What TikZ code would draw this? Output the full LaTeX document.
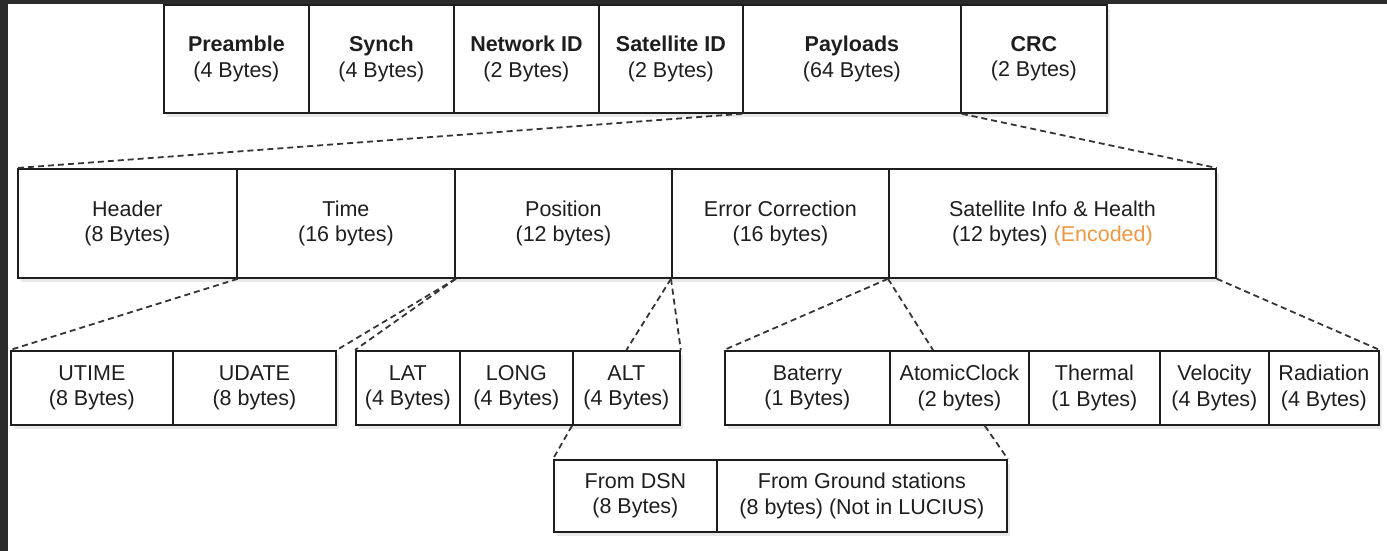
\documentclass[tikz,border=0pt]{standalone}
\usepackage{fontspec}
\setmainfont{Liberation Sans}
\usetikzlibrary{positioning,shadows,calc}
\definecolor{frame}{HTML}{2B2B2B}
\definecolor{ink}{HTML}{1E1E1E}
\definecolor{encoded}{RGB}{240,152,64}
\tikzset{
  field/.style={draw=ink, line width=1.8pt, fill=white, anchor=north west,
    inner sep=0pt, align=center, text=ink, font=\fontsize{21.5}{25.5}\selectfont,
    drop shadow={opacity=0.18, shadow xshift=3pt, shadow yshift=-4pt}},
  link/.style={draw=ink!90, line width=1.8pt, dash pattern=on 6pt off 4pt}
}

\begin{document}
\begin{tikzpicture}[x=1pt,y=-1pt]
        \useasboundingbox (0,0) rectangle (1387,551);
        \fill[frame] (0,0) rectangle (8,551);
        \fill[frame] (0,0) rectangle (1387,4);
        % frame
        \node[field, minimum width=145pt, minimum height=108pt] (preamble) at (163,4) {\textbf{Preamble}\\(4 Bytes)};
        \node[field, minimum width=145pt, minimum height=108pt] (synch) at (308,4) {\textbf{Synch}\\(4 Bytes)};
        \node[field, minimum width=145pt, minimum height=108pt] (netid) at (453,4) {\textbf{Network ID}\\(2 Bytes)};
        \node[field, minimum width=144pt, minimum height=108pt] (satid) at (598,4) {\textbf{Satellite ID}\\(2 Bytes)};
        \node[field, minimum width=218pt, minimum height=108pt] (payload) at (742,4) {\textbf{Payloads}\\(64 Bytes)};
        \node[field, minimum width=146pt, minimum height=108pt] (crc) at (960,4) {\textbf{CRC}\\(2 Bytes)};
        % payload
        \node[field, minimum width=219pt, minimum height=109pt] (header) at (17,168) {Header\\(8 Bytes)};
        \node[field, minimum width=218pt, minimum height=109pt] (time) at (236,168) {Time\\(16 bytes)};
        \node[field, minimum width=217pt, minimum height=109pt] (position) at (454,168) {Position\\(12 bytes)};
        \node[field, minimum width=217pt, minimum height=109pt] (errcorr) at (671,168) {Error Correction\\(16 bytes)};
        \node[field, minimum width=327pt, minimum height=109pt] (satinfo) at (888,168) {Satellite Info \& Health\\(12 bytes) {\color{encoded}(Encoded)}};
        % time, position, satellite info
        \node[field, minimum width=162pt, minimum height=74pt] (utime) at (10,350) {UTIME\\(8 Bytes)};
        \node[field, minimum width=163pt, minimum height=74pt] (udate) at (172,350) {UDATE\\(8 bytes)};
        \node[field, minimum width=104pt, minimum height=74pt] (lat) at (355,350) {LAT\\(4 Bytes)};
        \node[field, minimum width=113pt, minimum height=74pt] (long) at (459,350) {LONG\\(4 Bytes)};
        \node[field, minimum width=107pt, minimum height=74pt] (alt) at (572,350) {ALT\\(4 Bytes)};
        \node[field, minimum width=165pt, minimum height=74pt] (baterry) at (724,350) {Baterry\\(1 Bytes)};
        \node[field, minimum width=139pt, minimum height=74pt] (clock) at (889,350) {AtomicClock\\(2 bytes)};
        \node[field, minimum width=131pt, minimum height=74pt] (thermal) at (1028,350) {Thermal\\(1 Bytes)};
        \node[field, minimum width=109pt, minimum height=74pt] (velocity) at (1159,350) {Velocity\\(4 Bytes)};
        \node[field, minimum width=110pt, minimum height=74pt] (radiation) at (1268,350) {Radiation\\(4 Bytes)};
        % altitude sources
        \node[field, minimum width=163pt, minimum height=72pt] (dsn) at (553,459) {From DSN\\(8 Bytes)};
        \node[field, minimum width=290pt, minimum height=72pt] (ground) at (716,459) {From Ground stations\\(8 bytes) (Not in LUCIUS)};
        % links
        \draw[link] (payload.south west) -- (header.north west);
        \draw[link] (payload.south east) -- (satinfo.north east);
        \draw[link] (header.south east) -- (utime.north west);
        \draw[link] (time.south east) -- (udate.north east);
        \draw[link] (time.south east) -- (lat.north west);
        \draw[link] (errcorr.south west) -- (alt.north);
        \draw[link] (errcorr.south west) -- (alt.north east);
        \draw[link] (satinfo.south west) -- (baterry.north west);
        \draw[link] (satinfo.south west) -- ([xshift=44pt]clock.north west);
        \draw[link] (satinfo.south east) -- (radiation.north east);
        \draw[link] (alt.south west) -- (dsn.north west);
        \draw[link] ([xshift=-45pt]clock.south east) -- (ground.north east);
    \end{tikzpicture}
\end{document}
